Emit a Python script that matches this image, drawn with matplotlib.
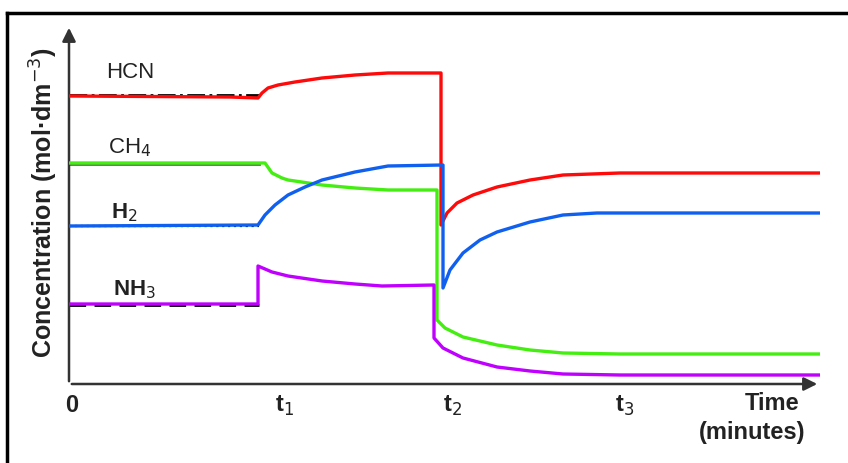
import matplotlib.pyplot as plt
from matplotlib.lines import Line2D

plt.rcParams['font.family'] = ['Liberation Sans', 'DejaVu Sans']

# time in arbitrary units, concentration in arbitrary units
t_end = 75.1

hcn_t = [0, 16.1, 18.9, 19.3, 19.9, 20.9, 22.6, 25.3, 28.6, 31.9, 37.2,
         37.2, 37.8, 38.8, 40.4, 42.8, 46.1, 49.4, 55.1, t_end]
hcn_c = [28.8, 28.7, 28.6, 29.1, 29.6, 29.9, 30.2, 30.6, 30.9, 31.1, 31.1,
         15.9, 17.1, 18.1, 18.9, 19.7, 20.4, 20.9, 21.1, 21.1]

ch4_t = [0, 19.3, 19.6, 20.3, 21.3, 21.9, 25.3, 28.6, 31.9, 36.8,
         36.8, 37.6, 39.4, 42.8, 46.1, 49.4, 55.1, t_end]
ch4_c = [22.1, 22.1, 22.1, 21.1, 20.6, 20.4, 19.9, 19.6, 19.4, 19.4,
         6.4, 5.6, 4.7, 3.9, 3.4, 3.1, 3.0, 3.0]

h2_t = [0, 18.9, 19.6, 20.6, 21.9, 23.6, 25.3, 28.6, 31.9, 37.4,
        37.4, 38.1, 39.4, 41.1, 42.8, 46.1, 49.4, 52.8, 55.1, t_end]
h2_c = [15.8, 15.9, 16.9, 17.9, 18.9, 19.7, 20.4, 21.2, 21.8, 21.9,
        9.6, 11.4, 13.1, 14.4, 15.2, 16.2, 16.9, 17.1, 17.1, 17.1]

nh3_t = [0, 18.9, 18.9, 20.3, 21.9, 25.3, 28.6, 31.3, 36.5,
         36.5, 37.4, 39.4, 42.8, 46.1, 49.4, 55.1, t_end]
nh3_c = [8.0, 8.0, 11.8, 11.2, 10.8, 10.3, 10.0, 9.8, 9.9,
         4.6, 3.6, 2.6, 1.7, 1.3, 1.0, 0.9, 0.9]

# black reference lines before t1
base_t = [0, 19.0]
hcn_base = [28.9, 28.9]
ch4_base = [22.0, 22.0]
h2_base = [15.75, 15.75]
nh3_base = [7.9, 7.9]

species = ['HCN', 'CH$_4$', 'H$_2$', 'NH$_3$']
label_t = [6.1, 6.1, 5.5, 6.5]
label_c = [31.1, 23.6, 17.1, 9.4]
label_weight = ['normal', 'normal', 'bold', 'bold']

tick_pos = [0.3, 21.5, 38.3, 55.6]
tick_text = ['0', 't$_1$', 't$_2$', 't$_3$']

W, H = 848, 463
fig = plt.figure(figsize=(W / 100, H / 100), dpi=100)
ax = fig.add_axes([69 / W, (H - 384) / H, 751 / W, 359 / H])
ax.set_xlim(0, t_end)
ax.set_ylim(0, 35.9)
ax.axis('off')

# figure frame (top and left only)
fig.add_artist(Line2D([7 / W, 1], [1 - 13 / H, 1 - 13 / H], color='black', lw=2.5))
fig.add_artist(Line2D([7 / W, 7 / W], [0, 1 - 13 / H], color='black', lw=2.5))

# axes with arrows
ax.annotate('', xy=(0, 1), xytext=(0, 0), xycoords='axes fraction',
            arrowprops=dict(arrowstyle='-|>', color='#333333', lw=1.8, mutation_scale=20))
ax.annotate('', xy=(1, 0), xytext=(0, 0), xycoords='axes fraction',
            arrowprops=dict(arrowstyle='-|>', color='#333333', lw=1.8, mutation_scale=20))

ax.plot(base_t, hcn_base, color='black', lw=2, ls='-.', zorder=2)
ax.plot(base_t, ch4_base, color='#666666', lw=2, zorder=2)
ax.plot(base_t, h2_base, color='black', lw=1.6, ls=':', zorder=2)
ax.plot(base_t, nh3_base, color='black', lw=2, ls=(0, (6, 3)), zorder=2)

kw = dict(lw=2.4, solid_joinstyle='round', solid_capstyle='butt')
ax.plot(hcn_t, hcn_c, color='#ff0a0a', zorder=3, **kw)
ax.plot(ch4_t, ch4_c, color='#44ee11', zorder=3, **kw)
ax.plot(h2_t, h2_c, color='#1060f0', zorder=4, **kw)
ax.plot(nh3_t, nh3_c, color='#c000ff', zorder=3, **kw)

for name, x, y, w in zip(species, label_t, label_c, label_weight):
    ax.text(x, y, name, fontsize=16, fontweight=w, ha='center', va='center', color='#222222')

for x, s in zip(tick_pos, tick_text):
    ax.text(x, -2.2, s, fontsize=17, fontweight='bold', ha='center', va='center', color='#222222')

ax.text(70.3, -1.9, 'Time', fontsize=17, fontweight='bold', ha='center', va='center', color='#222222')
ax.text(68.3, -4.9, '(minutes)', fontsize=17, fontweight='bold', ha='center', va='center', color='#222222')

fig.text(44 / W, 1 - 203 / H, 'Concentration (mol·dm$^{-3}$)', fontsize=18, fontweight='bold',
         rotation=90, ha='center', va='center', color='#222222')

fig.savefig('out.png', dpi=100)
